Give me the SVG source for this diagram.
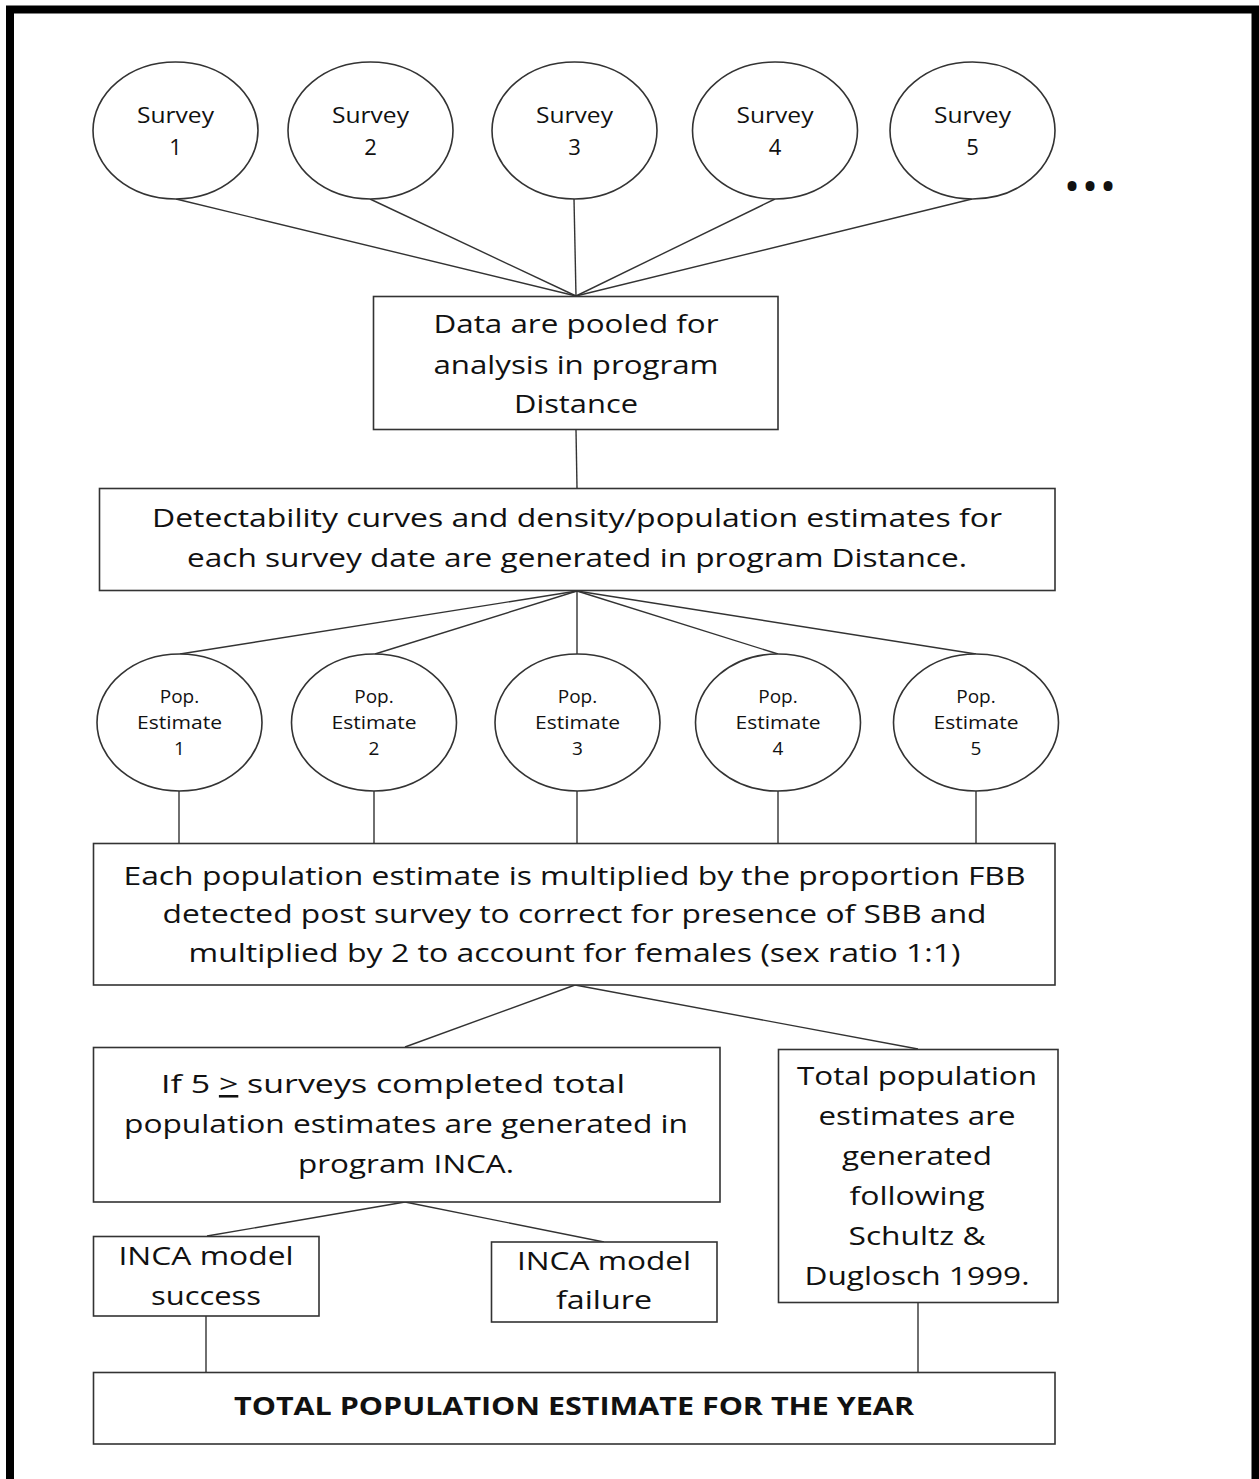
<svg xmlns="http://www.w3.org/2000/svg" width="1259" height="1479" viewBox="0 0 1259 1479">
  <style>
    .frame { fill: none; stroke: #000; stroke-width: 8; }
    .shape { fill: #fff; stroke: #333; stroke-width: 1.6; }
    .wire { fill: none; stroke: #333; stroke-width: 1.4; }
    .t { font-family: "Open Sans", "Noto Sans", sans-serif; fill: #111; text-anchor: middle; }
    .big { font-size: 25.5px; }
    .mid { font-size: 22px; }
    .sm { font-size: 19px; }
    .b { font-weight: bold; }
  </style>
  <rect width="1259" height="1479" fill="#fff"/>
  <rect class="frame" x="10" y="9.5" width="1245.5" height="1520"/>

  <!-- connectors -->
  <g id="connectors">
    <line class="wire" x1="176" y1="199" x2="576" y2="296"/>
    <line class="wire" x1="370" y1="199" x2="576" y2="296"/>
    <line class="wire" x1="574" y1="199" x2="576" y2="296"/>
    <line class="wire" x1="775" y1="199" x2="576" y2="296"/>
    <line class="wire" x1="972" y1="199" x2="576" y2="296"/>
    <line class="wire" x1="576" y1="430" x2="577" y2="488"/>
    <line class="wire" x1="577" y1="591" x2="180" y2="654"/>
    <line class="wire" x1="577" y1="591" x2="375" y2="654"/>
    <line class="wire" x1="577" y1="591" x2="577" y2="654"/>
    <line class="wire" x1="577" y1="591" x2="778" y2="654"/>
    <line class="wire" x1="577" y1="591" x2="976" y2="654"/>
    <line class="wire" x1="179" y1="791" x2="179" y2="843"/>
    <line class="wire" x1="374" y1="791" x2="374" y2="843"/>
    <line class="wire" x1="577" y1="791" x2="577" y2="843"/>
    <line class="wire" x1="778" y1="791" x2="778" y2="843"/>
    <line class="wire" x1="976" y1="791" x2="976" y2="843"/>
    <line class="wire" x1="575" y1="985" x2="405" y2="1047"/>
    <line class="wire" x1="575" y1="985" x2="918" y2="1049"/>
    <line class="wire" x1="405" y1="1202" x2="207" y2="1236"/>
    <line class="wire" x1="405" y1="1202" x2="604" y2="1242"/>
    <line class="wire" x1="206" y1="1316" x2="206" y2="1372"/>
    <line class="wire" x1="918" y1="1303" x2="918" y2="1372"/>
  </g>

  <!-- survey ellipses -->
  <g id="survey1">
    <ellipse class="shape" cx="175.5" cy="130.5" rx="82.5" ry="68.5"/>
    <text class="t mid" x="175.5" y="123" textLength="77" lengthAdjust="spacingAndGlyphs">Survey</text>
    <text class="t mid" x="175.5" y="155">1</text>
  </g>
  <g id="survey2">
    <ellipse class="shape" cx="370.5" cy="130.5" rx="82.5" ry="68.5"/>
    <text class="t mid" x="370.5" y="123" textLength="77" lengthAdjust="spacingAndGlyphs">Survey</text>
    <text class="t mid" x="370.5" y="155">2</text>
  </g>
  <g id="survey3">
    <ellipse class="shape" cx="574.5" cy="130.5" rx="82.5" ry="68.5"/>
    <text class="t mid" x="574.5" y="123" textLength="77" lengthAdjust="spacingAndGlyphs">Survey</text>
    <text class="t mid" x="574.5" y="155">3</text>
  </g>
  <g id="survey4">
    <ellipse class="shape" cx="775" cy="130.5" rx="82.5" ry="68.5"/>
    <text class="t mid" x="775" y="123" textLength="77" lengthAdjust="spacingAndGlyphs">Survey</text>
    <text class="t mid" x="775" y="155">4</text>
  </g>
  <g id="survey5">
    <ellipse class="shape" cx="972.5" cy="130.5" rx="82.5" ry="68.5"/>
    <text class="t mid" x="972.5" y="123" textLength="77" lengthAdjust="spacingAndGlyphs">Survey</text>
    <text class="t mid" x="972.5" y="155">5</text>
  </g>
  <g id="more">
    <text class="t b" x="1090" y="198" font-size="32" textLength="48" lengthAdjust="spacing">•••</text>
  </g>

  <!-- pooled data -->
  <g id="pooled">
    <rect class="shape" x="373.5" y="296.5" width="404.5" height="133"/>
    <text class="t big" x="576" y="333" textLength="285" lengthAdjust="spacingAndGlyphs">Data are pooled for</text>
    <text class="t big" x="576" y="374" textLength="285" lengthAdjust="spacingAndGlyphs">analysis in program</text>
    <text class="t big" x="576" y="413" textLength="124" lengthAdjust="spacingAndGlyphs">Distance</text>
  </g>

  <!-- detectability -->
  <g id="detectability">
    <rect class="shape" x="99.5" y="488.5" width="955.5" height="102"/>
    <text class="t big" x="577" y="527" textLength="850" lengthAdjust="spacingAndGlyphs">Detectability curves and density/population estimates for</text>
    <text class="t big" x="577" y="567" textLength="780" lengthAdjust="spacingAndGlyphs">each survey date are generated in program Distance.</text>
  </g>

  <!-- population estimate ellipses -->
  <g id="pop1">
    <ellipse class="shape" cx="179.5" cy="722.5" rx="82.5" ry="68.5"/>
    <text class="t sm" x="179.5" y="703">Pop.</text>
    <text class="t sm" x="179.5" y="729" textLength="85" lengthAdjust="spacingAndGlyphs">Estimate</text>
    <text class="t sm" x="179.5" y="755">1</text>
  </g>
  <g id="pop2">
    <ellipse class="shape" cx="374" cy="722.5" rx="82.5" ry="68.5"/>
    <text class="t sm" x="374" y="703">Pop.</text>
    <text class="t sm" x="374" y="729" textLength="85" lengthAdjust="spacingAndGlyphs">Estimate</text>
    <text class="t sm" x="374" y="755">2</text>
  </g>
  <g id="pop3">
    <ellipse class="shape" cx="577.5" cy="722.5" rx="82.5" ry="68.5"/>
    <text class="t sm" x="577.5" y="703">Pop.</text>
    <text class="t sm" x="577.5" y="729" textLength="85" lengthAdjust="spacingAndGlyphs">Estimate</text>
    <text class="t sm" x="577.5" y="755">3</text>
  </g>
  <g id="pop4">
    <ellipse class="shape" cx="778" cy="722.5" rx="82.5" ry="68.5"/>
    <text class="t sm" x="778" y="703">Pop.</text>
    <text class="t sm" x="778" y="729" textLength="85" lengthAdjust="spacingAndGlyphs">Estimate</text>
    <text class="t sm" x="778" y="755">4</text>
  </g>
  <g id="pop5">
    <ellipse class="shape" cx="976" cy="722.5" rx="82.5" ry="68.5"/>
    <text class="t sm" x="976" y="703">Pop.</text>
    <text class="t sm" x="976" y="729" textLength="85" lengthAdjust="spacingAndGlyphs">Estimate</text>
    <text class="t sm" x="976" y="755">5</text>
  </g>

  <!-- correction step -->
  <g id="correction">
    <rect class="shape" x="93.5" y="843.5" width="961.5" height="141.5"/>
    <text class="t big" x="574.5" y="885" textLength="902" lengthAdjust="spacingAndGlyphs">Each population estimate is multiplied by the proportion FBB</text>
    <text class="t big" x="574.5" y="923" textLength="824" lengthAdjust="spacingAndGlyphs">detected post survey to correct for presence of SBB and</text>
    <text class="t big" x="574.5" y="962" textLength="772" lengthAdjust="spacingAndGlyphs">multiplied by 2 to account for females (sex ratio 1:1)</text>
  </g>

  <!-- INCA branch -->
  <g id="inca">
    <rect class="shape" x="93.5" y="1047.5" width="626.5" height="154.5"/>
    <text class="t big" x="393" y="1093" textLength="464" lengthAdjust="spacingAndGlyphs">If 5 <tspan text-decoration="underline">&gt;</tspan> surveys completed total</text>
    <text class="t big" x="406" y="1133" textLength="564" lengthAdjust="spacingAndGlyphs">population estimates are generated in</text>
    <text class="t big" x="406" y="1173" textLength="216" lengthAdjust="spacingAndGlyphs">program INCA.</text>
  </g>

  <!-- Schultz & Duglosch branch -->
  <g id="schultz">
    <rect class="shape" x="778.5" y="1049.5" width="279.5" height="253"/>
    <text class="t big" x="917" y="1085" textLength="240" lengthAdjust="spacingAndGlyphs">Total population</text>
    <text class="t big" x="917" y="1125" textLength="197" lengthAdjust="spacingAndGlyphs">estimates are</text>
    <text class="t big" x="917" y="1165" textLength="150" lengthAdjust="spacingAndGlyphs">generated</text>
    <text class="t big" x="917" y="1205" textLength="135" lengthAdjust="spacingAndGlyphs">following</text>
    <text class="t big" x="917" y="1245" textLength="137" lengthAdjust="spacingAndGlyphs">Schultz &amp;</text>
    <text class="t big" x="917" y="1285" textLength="225" lengthAdjust="spacingAndGlyphs">Duglosch 1999.</text>
  </g>

  <g id="success">
    <rect class="shape" x="93.5" y="1236.5" width="225.5" height="79.5"/>
    <text class="t big" x="206" y="1265" textLength="175" lengthAdjust="spacingAndGlyphs">INCA model</text>
    <text class="t big" x="206" y="1305" textLength="110" lengthAdjust="spacingAndGlyphs">success</text>
  </g>

  <g id="failure">
    <rect class="shape" x="491.5" y="1242" width="225.5" height="80"/>
    <text class="t big" x="604" y="1270" textLength="174" lengthAdjust="spacingAndGlyphs">INCA model</text>
    <text class="t big" x="604" y="1309" textLength="96" lengthAdjust="spacingAndGlyphs">failure</text>
  </g>

  <!-- final result -->
  <g id="total">
    <rect class="shape" x="93.5" y="1372.5" width="961.5" height="71.5"/>
    <text class="t big b" x="574" y="1415" textLength="680" lengthAdjust="spacingAndGlyphs">TOTAL POPULATION ESTIMATE FOR THE YEAR</text>
  </g>
</svg>
